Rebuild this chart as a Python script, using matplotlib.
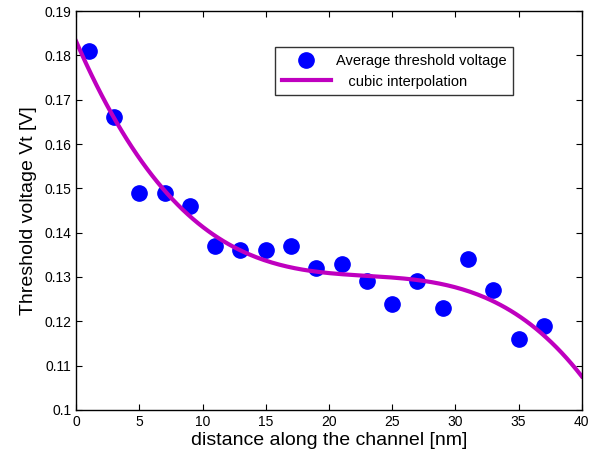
import numpy as np
import matplotlib
matplotlib.use('Agg')
import matplotlib.pyplot as plt

plt.rcParams['font.family'] = ['Liberation Sans', 'DejaVu Sans']

# measured points
x_pts = [1, 3, 5, 7, 9, 11, 13, 15, 17, 19, 21, 23, 25, 27, 29, 31, 33, 35, 37]
vt = [0.181, 0.166, 0.149, 0.149, 0.146, 0.137, 0.136, 0.136, 0.137, 0.132,
      0.133, 0.129, 0.124, 0.129, 0.123, 0.134, 0.127, 0.116, 0.119]

# cubic fit of the points
p = np.polyfit(x_pts, vt, 3)
xx = np.linspace(0, 40, 200)

fig = plt.figure(figsize=(5.9, 4.62), dpi=100)
ax = fig.add_axes([0.129, 0.1126, 0.857, 0.8635])

ax.plot(x_pts, vt, 'o', color='#0000ff', markersize=11, label='Average threshold voltage')
ax.plot(xx, np.polyval(p, xx), '-', color='#bf00bf', linewidth=3, label='   cubic interpolation')

ax.set_xlim(0, 40)
ax.set_ylim(0.1, 0.19)
ax.set_xticks(np.arange(0, 41, 5))
ax.set_yticks(np.arange(0.1, 0.1901, 0.01))
ax.set_yticklabels(['0.1', '0.11', '0.12', '0.13', '0.14', '0.15', '0.16', '0.17', '0.18', '0.19'])
ax.tick_params(direction='in', top=True, right=True, labelsize=10, length=4)
for s in ax.spines.values():
    s.set_linewidth(1)

ax.set_xlabel('distance along the channel [nm]', fontsize=14, labelpad=2)
ax.set_ylabel('Threshold voltage Vt [V]', fontsize=14, labelpad=5)

leg = ax.legend(loc='upper left', bbox_to_anchor=(0.379, 0.927), fontsize=10.5,
                frameon=True, fancybox=False, edgecolor='black', borderpad=0.45,
                handlelength=3.4, handletextpad=0.35, labelspacing=0.45)
leg.get_frame().set_linewidth(1)

fig.savefig('out.png', dpi=100)
